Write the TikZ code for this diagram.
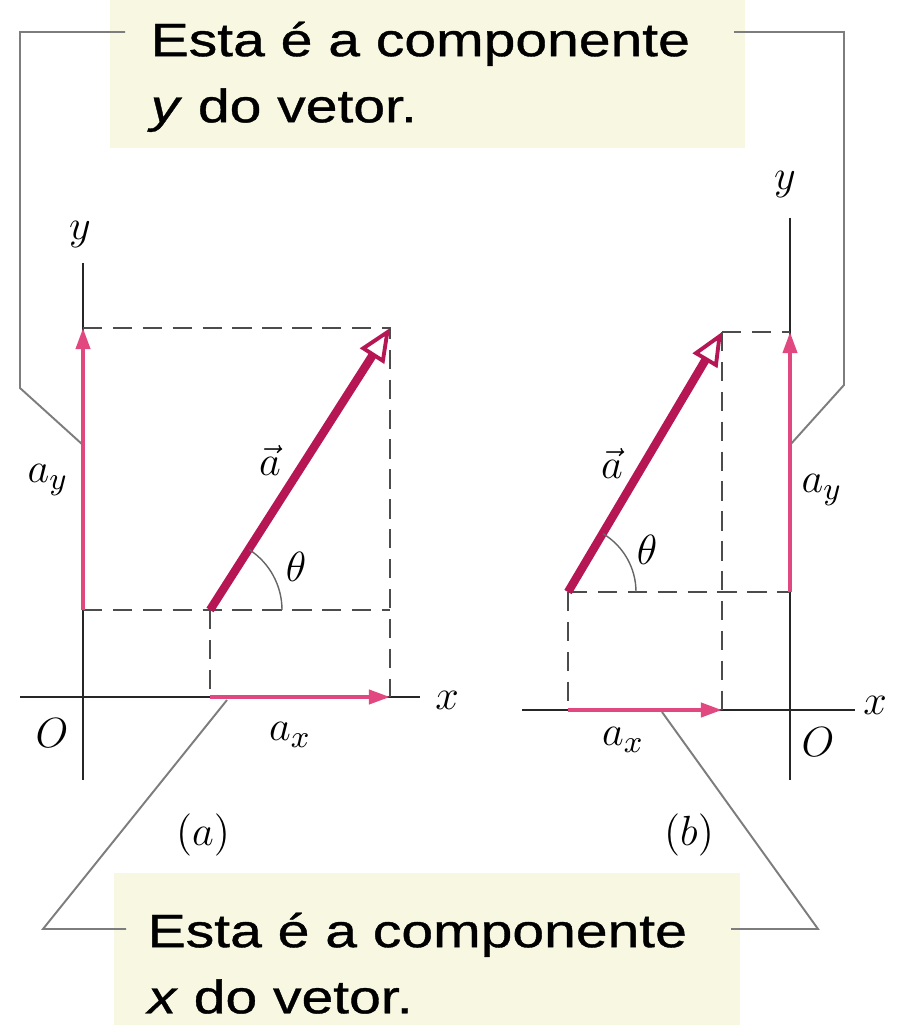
\documentclass[tikz,border=0pt]{standalone}
\usepackage{fontspec}
\newfontfamily\notefont[FakeStretch=1.22,FakeBold=0.8]{Liberation Sans}
\usetikzlibrary{arrows.meta}

\definecolor{vecred}{RGB}{182,22,84}
\definecolor{comppink}{RGB}{226,72,128}
\definecolor{notebg}{RGB}{248,248,226}
\definecolor{bracketgray}{RGB}{125,125,125}

\tikzset{
  axis/.style={draw=black!85,line width=0.6pt},
  proj/.style={draw=black!70,line width=0.6pt,dash pattern=on 5.5pt off 3pt},
  comp/.style={draw=comppink,line width=1.1pt,-{Triangle[length=6pt,width=4pt]}},
  vecarrow/.style={draw=vecred,line width=2.4pt,
    -{Triangle[length=9.5pt,width=8pt,fill=white,line width=1.1pt]}},
  anglearc/.style={draw=black!60,line width=0.4pt},
  bracket/.style={draw=bracketgray,line width=0.55pt},
  lbl/.style={font=\fontsize{13}{15}\selectfont,inner sep=1pt},
  note/.style={font=\notefont\fontsize{13.3}{18.8}\selectfont,align=left,
    anchor=north west,inner sep=0pt},
}

\begin{document}
\begin{tikzpicture}[x=0.01cm,y=-0.01cm]
\useasboundingbox (0,0) rectangle (897,1025);

% note backgrounds
\fill[notebg] (110,0) rectangle (745,148);
\fill[notebg] (114,873) rectangle (740,1025);

% key points, panel (a)
\coordinate (Oa) at (83,697);
\coordinate (tailA) at (210,610);
\coordinate (headA) at (390,328);
% key points, panel (b)
\coordinate (Ob) at (790,710);
\coordinate (tailB) at (568,592);
\coordinate (headB) at (722,332);

% where the brackets meet the components
\coordinate (hitAy) at (83,445);
\coordinate (hitBy) at (790,445);
\coordinate (hitAx) at (227,700);
\coordinate (hitBx) at (662,712);

% brackets
\draw[bracket] (125,32) -- (20,32) -- (20,388) -- (hitAy);
\draw[bracket] (734,32) -- (844,32) -- (844,385) -- (hitBy);
\draw[bracket] (126,929) -- (43,929) -- (hitAx);
\draw[bracket] (731,929) -- (818,929) -- (hitBx);

% axes
\draw[axis] (20,697) -- (420,697);
\draw[axis] (83,263) -- (83,780);
\draw[axis] (522,710) -- (855,710);
\draw[axis] (790,218) -- (790,780);

% projections
\draw[proj] (Oa |- headA) -- (headA) -- (headA |- Oa);
\draw[proj] (Oa |- tailA) -- (headA |- tailA);
\draw[proj] (tailA) -- (tailA |- Oa);
\draw[proj] (headB) -- (Ob |- headB);
\draw[proj] (tailB) -- (Ob |- tailB);
\draw[proj] (headB) -- (headB |- Ob);
\draw[proj] (tailB) -- (tailB |- Ob);

% components
\draw[comp] (Oa |- tailA) -- (Oa |- headA);
\draw[comp] (tailA |- Oa) -- (headA |- Oa);
\draw[comp] (tailB |- Ob) -- (headB |- Ob);
\draw[comp] (Ob |- tailB) -- (Ob |- headB);

% vectors
\draw[vecarrow] (tailA) -- (headA);
\draw[vecarrow] (tailB) -- (headB);

% angles
\draw[anglearc] (tailA) ++(72,0) arc[start angle=0,end angle=-57,radius=72];
\draw[anglearc] (tailB) ++(68,0) arc[start angle=0,end angle=-59,radius=68];

% labels, panel (a)
\node[lbl] (yA) at (80,235) {$y$};
\node[lbl] (xA) at (447,700) {$x$};
\node[lbl] (OA) at (52,733) {$O$};
\node[lbl] (axA) at (290,735) {$a_x$};
\node[lbl] (ayA) at (48,480) {$a_y$};
\node[lbl] (vecA) at (270,460) {$\vec{a}$};
\node[lbl] (thA) at (296,567) {$\theta$};
\node[lbl] (capA) at (203,835) {$(a)$};

% labels, panel (b)
\node[lbl] (yB) at (785,185) {$y$};
\node[lbl] (xB) at (875,705) {$x$};
\node[lbl] (OB) at (818,742) {$O$};
\node[lbl] (axB) at (623,740) {$a_x$};
\node[lbl] (ayB) at (822,490) {$a_y$};
\node[lbl] (vecB) at (612,463) {$\vec{a}$};
\node[lbl] (thB) at (647,550) {$\theta$};
\node[lbl] (capB) at (689,835) {$(b)$};

% notes
\node[note] (noteY) at (150,21) {Esta é a componente\\\textit{y} do vetor.};
\node[note] (noteX) at (147,912) {Esta é a componente\\\textit{x} do vetor.};
\end{tikzpicture}
\end{document}
